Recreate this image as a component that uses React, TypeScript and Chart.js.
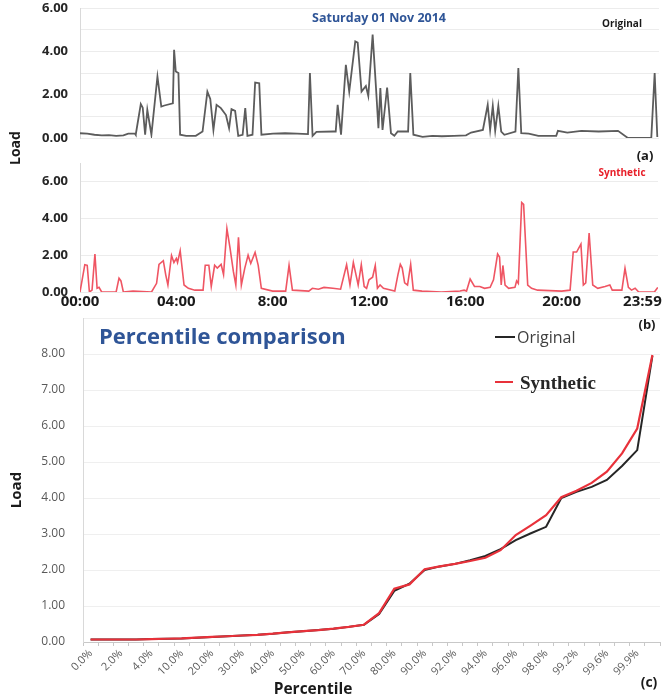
import React, { useEffect, useRef } from 'react';
import { Chart, registerables } from 'chart.js';

Chart.register(...registerables);

// ---------- Data ----------
const timeTickHours = [0, 4, 8, 12, 16, 20, 24];
const timeTickLabels = ['00:00', '04:00', '8:00', '12:00', '16:00', '20:00', '23:59'];

const origHours = [
  0.0, 0.3, 0.6, 0.9, 1.2, 1.5, 1.8, 2.0, 2.28, 2.31, 2.52, 2.6, 2.7, 2.79, 2.96, 3.21, 3.37, 3.5, 3.85,
  3.9, 3.97, 4.08, 4.15, 4.4, 4.8, 5.08, 5.28, 5.4, 5.53, 5.66, 5.84, 6.05, 6.18, 6.28, 6.43, 6.56, 6.74,
  6.85, 6.94, 7.15, 7.26, 7.43, 7.52, 8.0, 8.5, 9.0, 9.45, 9.53, 9.64, 9.8, 10.5, 10.6, 10.68, 10.82,
  11.02, 11.16, 11.41, 11.51, 11.67, 11.85, 11.95, 12.13, 12.27, 12.37, 12.45, 12.54, 12.73, 12.89, 13.03,
  13.17, 13.6, 13.69, 13.82, 14.2, 14.6, 15.0, 15.5, 16.0, 16.21, 16.7, 16.9, 17.0, 17.11, 17.21, 17.34,
  17.46, 17.59, 18.05, 18.17, 18.29, 18.6, 19.0, 19.74, 19.81, 20.2, 20.78, 21.5, 22.3, 22.71, 23.68,
  23.82, 23.93,
];
const origLoad = [
  0.22, 0.2, 0.15, 0.12, 0.13, 0.1, 0.12, 0.2, 0.2, 0.15, 1.57, 1.4, 0.15, 1.3, 0.15, 2.84, 1.45, 1.5, 1.6,
  4.07, 3.07, 3.0, 0.15, 0.1, 0.1, 0.3, 2.14, 1.8, 0.37, 1.53, 1.38, 1.06, 0.45, 1.33, 1.25, 0.1, 0.15,
  1.38, 0.1, 0.15, 2.56, 2.53, 0.15, 0.2, 0.22, 0.2, 0.18, 3.0, 0.1, 0.28, 0.3, 0.3, 1.53, 0.15,
  3.38, 2.14, 4.46, 4.4, 2.14, 2.4, 1.94, 4.77, 2.3, 0.45, 2.3, 0.37, 2.33, 0.22, 0.1,
  0.3, 0.3, 3.0, 0.15, 0.05, 0.1, 0.08, 0.1, 0.12, 0.25, 0.37, 1.53, 0.37, 1.48, 0.33, 1.48,
  0.3, 0.15, 0.3, 3.23, 0.22, 0.2, 0.1, 0.1, 0.33, 0.25, 0.33, 0.3, 0.33, 0.0, 0.0,
  3.0, 0.05,
];

const synthHours = [
  0.0, 0.2, 0.3, 0.39, 0.5, 0.62, 0.71, 0.79, 0.9, 1.5, 1.62, 1.7, 1.8, 2.2, 2.97, 3.18, 3.28, 3.46, 3.56,
  3.65, 3.8, 3.9, 4.0, 4.05, 4.16, 4.32, 4.5, 4.77, 5.11, 5.2, 5.35, 5.45, 5.59, 5.7, 5.86, 5.96, 6.1,
  6.23, 6.37, 6.47, 6.58, 6.7, 6.84, 6.98, 7.09, 7.27, 7.4, 7.53, 8.0, 8.54, 8.68, 8.82, 9.5, 9.65, 9.9,
  10.13, 10.5, 10.82, 11.07, 11.21, 11.35, 11.49, 11.55, 11.68, 11.8, 11.9, 12.0, 12.15, 12.26, 12.35,
  12.46, 12.6, 13.07, 13.2, 13.3, 13.38, 13.48, 13.6, 13.73, 13.84, 14.2, 15.0, 15.78, 15.95, 16.05, 16.2,
  16.38, 16.6, 16.8, 17.03, 17.17, 17.34, 17.42, 17.49, 17.56, 17.65, 17.8, 18.06, 18.13, 18.2, 18.34,
  18.42, 18.59, 18.75, 19.0, 20.0, 20.35, 20.48, 20.62, 20.8, 20.9, 21.0, 21.14, 21.29, 21.5, 21.8, 22.0,
  22.1, 22.5, 22.63, 22.77, 22.9, 23.05, 23.2, 23.85, 23.99,
];
const synthLoad = [
  0.0, 1.48, 1.45, 0.0, 0.1, 2.06, 0.2, 0.25, 0.0, 0.0, 0.75, 0.6, 0.0, 0.05, 0.0, 0.47, 1.5, 1.7, 0.93,
  0.38, 1.98, 1.6, 1.82, 1.6, 2.24, 0.38, 0.2, 0.1, 0.1, 1.45, 1.45, 0.3, 1.45, 1.3, 1.5, 0.95, 3.44,
  2.38, 1.1, 0.38, 2.97, 0.38, 1.28, 2.0, 1.55, 2.15, 1.45, 0.2, 0.05, 0.05, 1.45, 0.1, 0.05, 0.2, 0.15,
  0.25, 0.2, 0.15, 1.48, 0.38, 1.6, 0.75, 0.38, 1.48, 0.3, 0.2, 0.66, 0.8, 1.44, 0.2,
  0.38, 0.2, 0.05, 0.93, 1.5, 1.3, 0.5, 0.38, 1.5, 0.1, 0.05, 0.0, 0.05, 0.1, 0.05, 0.7,
  0.3, 0.3, 0.2, 0.25, 0.66, 2.06, 1.9, 0.38, 1.44, 0.38, 0.2, 0.25, 0.6, 0.47, 4.85,
  4.75, 0.38, 0.2, 0.1, 0.05, 0.1, 2.17, 2.17, 2.6, 0.38, 0.5, 3.2, 0.38, 0.2, 0.3, 0.38,
  0.1, 0.1, 1.28, 0.25, 0.1, 0.2, 0.0, 0.0, 0.25,
];

const pctLabels = [
  '0.0%', '1.0%', '2.0%', '3.0%', '4.0%', '5.0%', '10.0%', '15.0%', '20.0%', '25.0%', '30.0%', '35.0%',
  '40.0%', '45.0%', '50.0%', '55.0%', '60.0%', '65.0%', '70.0%', '75.0%', '80.0%', '85.0%', '90.0%',
  '91.0%', '92.0%', '93.0%', '94.0%', '95.0%', '96.0%', '97.0%', '98.0%', '99.0%', '99.2%', '99.4%',
  '99.6%', '99.8%', '99.9%', '100.0%',
];
const pctOriginal = [
  0.07, 0.07, 0.07, 0.07, 0.08, 0.09, 0.1, 0.12, 0.14, 0.16, 0.18, 0.2, 0.23, 0.27, 0.3, 0.33, 0.37, 0.42,
  0.48, 0.78, 1.42, 1.62, 2.0, 2.1, 2.17, 2.27, 2.39, 2.58, 2.83, 3.02, 3.2, 4.0, 4.17, 4.31, 4.5, 4.89,
  5.33, 7.95,
];
const pctSynthetic = [
  0.07, 0.07, 0.07, 0.07, 0.08, 0.09, 0.1, 0.12, 0.14, 0.16, 0.18, 0.2, 0.23, 0.27, 0.3, 0.33, 0.37, 0.42,
  0.48, 0.8, 1.48, 1.6, 2.02, 2.1, 2.17, 2.25, 2.34, 2.55, 2.97, 3.24, 3.52, 4.02, 4.2, 4.42, 4.73, 5.24,
  5.93, 7.97,
];

// ---------- Helpers ----------
const toXY = (xs: number[], ys: number[]) => xs.map((x, i) => ({ x, y: ys[i] }));

const fitY = (w: number) => (s: any) => {
  s.width = w;
  s.paddingTop = 0;
  s.paddingBottom = 0;
};
const fitX = (h: number) => (s: any) => {
  s.height = h;
  s.paddingLeft = 0;
  s.paddingRight = 0;
};

const timeYAxis = (max: number) => ({
  type: 'linear',
  min: 0,
  max,
  afterFit: fitY(80),
  ticks: {
    stepSize: 1,
    padding: 12,
    color: '#262626',
    font: { family: 'Open Sans', size: 13, weight: 'bold' },
    callback: (v: any) => (Number(v) % 2 === 0 ? Number(v).toFixed(2) : ''),
  },
  grid: { color: '#ececec', drawTicks: false },
  border: { color: '#d9d9d9' },
});

const Txt = ({ x, y, children, style, rotate, left }: any) => (
  <div
    style={{
      position: 'absolute',
      left: x,
      top: y,
      transform: `translate(${left ? '0' : '-50%'}, -50%)${rotate ? ` rotate(${rotate}deg)` : ''}`,
      whiteSpace: 'nowrap',
      fontFamily: 'Open Sans',
      lineHeight: 1,
      ...style,
    }}
  >
    {children}
  </div>
);

export default function App() {
  const refA = useRef<HTMLCanvasElement>(null);
  const refB = useRef<HTMLCanvasElement>(null);
  const refC = useRef<HTMLCanvasElement>(null);

  useEffect(() => {
    Chart.defaults.font.family = 'Open Sans';
    const charts: Chart[] = [];

    charts.push(
      new Chart(refA.current!, {
        type: 'line',
        data: {
          datasets: [
            {
              label: 'Original',
              data: toXY(origHours, origLoad),
              borderColor: '#5c5c5c',
              borderWidth: 1.8,
              pointRadius: 0,
              tension: 0,
            },
          ],
        },
        options: {
          animation: false,
          responsive: false,
          layout: { padding: { top: 8, right: 6, bottom: 12, left: 0 } },
          plugins: { legend: { display: false }, tooltip: { enabled: false } },
          scales: {
            x: { type: 'linear', min: 0, max: 24, display: false },
            y: timeYAxis(6) as any,
          },
        },
      })
    );

    charts.push(
      new Chart(refB.current!, {
        type: 'line',
        data: {
          datasets: [
            {
              label: 'Synthetic',
              data: toXY(synthHours, synthLoad),
              borderColor: '#ef5563',
              borderWidth: 1.6,
              pointRadius: 0,
              tension: 0,
            },
          ],
        },
        options: {
          animation: false,
          responsive: false,
          layout: { padding: { top: 13, right: 7, bottom: 0, left: 0 } },
          plugins: { legend: { display: false }, tooltip: { enabled: false } },
          scales: {
            x: {
              type: 'linear',
              min: 0,
              max: 24,
              afterBuildTicks: (s: any) => {
                s.ticks = timeTickHours.map((v) => ({ value: v }));
              },
              afterFit: fitX(23),
              grid: { display: false, drawTicks: false },
              border: { display: false },
              ticks: {
                autoSkip: false,
                maxRotation: 0,
                padding: 1,
                color: '#1a1a1a',
                font: { family: 'Open Sans', size: 15, weight: 'bold' },
                callback: (v: any) => {
                  const i = timeTickHours.indexOf(Number(v));
                  if (i < 0) return '';
                  return i === timeTickHours.length - 1 ? timeTickLabels[i] + '        ' : timeTickLabels[i];
                },
              },
            },
            y: timeYAxis(7) as any,
          },
        },
      })
    );

    charts.push(
      new Chart(refC.current!, {
        type: 'line',
        data: {
          labels: pctLabels,
          datasets: [
            {
              label: 'Original',
              data: pctOriginal,
              borderColor: '#262626',
              borderWidth: 2,
              pointRadius: 0,
              tension: 0,
              order: 2,
            },
            {
              label: 'Synthetic',
              data: pctSynthetic,
              borderColor: '#e8313a',
              borderWidth: 2.2,
              pointRadius: 0,
              tension: 0,
              order: 1,
            },
          ],
        },
        options: {
          animation: false,
          responsive: false,
          layout: { padding: { top: 3, right: 5, bottom: 0, left: 0 } },
          plugins: { legend: { display: false }, tooltip: { enabled: false } },
          scales: {
            x: {
              type: 'category',
              offset: true,
              afterFit: fitX(57),
              grid: {
                display: true,
                drawOnChartArea: false,
                drawTicks: true,
                tickLength: 4,
                offset: true,
                color: '#c8c8c8',
              },
              border: { color: '#c8c8c8' },
              ticks: {
                autoSkip: false,
                minRotation: 45,
                maxRotation: 45,
                padding: 1,
                color: '#595959',
                font: { family: 'Open Sans', size: 11 },
                callback: (_v: any, i: number) => (i % 2 === 0 ? pctLabels[i] : ''),
              },
            },
            y: {
              type: 'linear',
              min: 0,
              max: 9,
              afterFit: fitY(83),
              ticks: {
                stepSize: 1,
                padding: 18,
                color: '#595959',
                font: { family: 'Open Sans', size: 12 },
                callback: (v: any) => (Number(v) === 9 ? '' : Number(v).toFixed(2)),
              },
              grid: { color: '#efefef', drawTicks: false },
              border: { color: '#d9d9d9' },
            },
          },
        },
      })
    );

    return () => charts.forEach((c) => c.destroy());
  }, []);

  return (
    <div
      style={{
        position: 'fixed',
        left: 0,
        top: 0,
        width: 665,
        height: 699,
        background: '#ffffff',
        overflow: 'hidden',
      }}
    >
      <canvas ref={refA} width={665} height={150} style={{ position: 'absolute', left: 0, top: 0 }} />
      <canvas ref={refB} width={665} height={165} style={{ position: 'absolute', left: 0, top: 150 }} />
      <canvas ref={refC} width={665} height={384} style={{ position: 'absolute', left: 0, top: 315 }} />

      <Txt x={379} y={18} style={{ color: '#2f5597', fontWeight: 700, fontSize: 12.5 }}>
        Saturday 01 Nov 2014
      </Txt>
      <Txt x={622} y={23} style={{ color: '#1a1a1a', fontWeight: 700, fontSize: 10 }}>
        Original
      </Txt>
      <Txt x={645} y={155} style={{ color: '#1a1a1a', fontWeight: 700, fontSize: 13 }}>
        (a)
      </Txt>
      <Txt x={622} y={172} style={{ color: '#e8202a', fontWeight: 700, fontSize: 10 }}>
        Synthetic
      </Txt>
      <Txt x={647} y={324} style={{ color: '#1a1a1a', fontWeight: 700, fontSize: 13 }}>
        (b)
      </Txt>
      <Txt x={15} y={148} rotate={-90} style={{ color: '#1a1a1a', fontWeight: 700, fontSize: 14 }}>
        Load
      </Txt>

      <Txt x={99} y={335} left style={{ color: '#2f5597', fontWeight: 700, fontSize: 22 }}>
        Percentile comparison
      </Txt>
      <div style={{ position: 'absolute', left: 495, top: 336, width: 20, height: 2, background: '#262626' }} />
      <Txt x={517} y={337} left style={{ color: '#404040', fontSize: 16 }}>
        Original
      </Txt>
      <div style={{ position: 'absolute', left: 495, top: 381, width: 18, height: 2, background: '#e8313a' }} />
      <Txt
        x={520}
        y={382}
        left
        style={{ color: '#262626', fontSize: 19, fontWeight: 700, fontFamily: 'Liberation Serif' }}
      >
        Synthetic
      </Txt>
      <Txt x={15} y={490} rotate={-90} style={{ color: '#1a1a1a', fontWeight: 700, fontSize: 15 }}>
        Load
      </Txt>
      <Txt x={313} y={689} style={{ color: '#1a1a1a', fontWeight: 700, fontSize: 15.5 }}>
        Percentile
      </Txt>
      <Txt x={649} y={682} style={{ color: '#1a1a1a', fontWeight: 700, fontSize: 14 }}>
        (c)
      </Txt>
    </div>
  );
}
